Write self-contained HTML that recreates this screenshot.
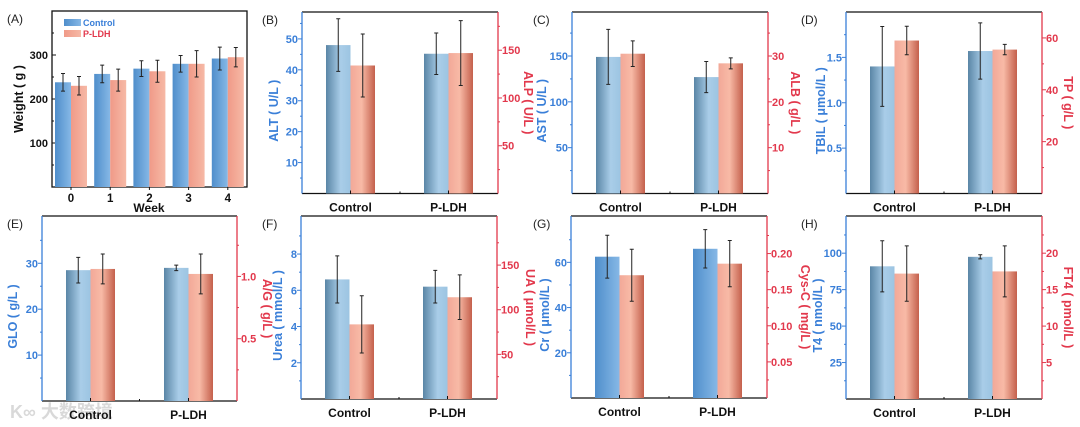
<!DOCTYPE html>
<html><head><meta charset="utf-8">
<style>
html,body{margin:0;padding:0;background:#fff;}
svg{display:block;font-family:"Liberation Sans","Noto Sans CJK SC",sans-serif;}
</style></head>
<body>
<svg id="fig" width="1080" height="427" viewBox="0 0 1080 427" xmlns="http://www.w3.org/2000/svg">
<defs>
<linearGradient id="gb" x1="0" x2="1"><stop offset="0" stop-color="#5a86a6"/><stop offset="0.6" stop-color="#a9cde8"/><stop offset="1" stop-color="#9cc4e2"/></linearGradient>
<linearGradient id="gr" x1="0" x2="1"><stop offset="0" stop-color="#f2a898"/><stop offset="0.45" stop-color="#f8baa6"/><stop offset="1" stop-color="#c4604c"/></linearGradient>
<linearGradient id="ga" x1="0" x2="1"><stop offset="0" stop-color="#4f8ecb"/><stop offset="1" stop-color="#86b8e6"/></linearGradient>
<linearGradient id="gar" x1="0" x2="1"><stop offset="0" stop-color="#f09a88"/><stop offset="1" stop-color="#f6b9a6"/></linearGradient>
</defs>
<g opacity="0.55">
<text x="10" y="418" font-size="18" fill="#bbb" font-weight="bold">K∞ 大数跨境</text>
</g>
</svg>
<script>
// ---- Panel A data ----
const weekCats = ["0","1","2","3","4"];
const weightControl = [238,257,269,280,292];
const weightControlErr = [20,20,18,19,26];
const weightPLDH = [230,243,263,280,295];
const weightPLDHErr = [21,25,25,30,22];
const weightTicks = [100,200,300];

// ---- Panels B-H data ----
const groups = ["Control","P-LDH"];
const altVals = [48,45.2]; const altErr = [8.5,6.7];
const alpVals = [134,147]; const alpErr = [33,34];
const astVals = [149,127]; const astErr = [30,17];
const albVals = [30.5,28.4]; const albErr = [2.8,1.2];
const tbilVals = [1.40,1.57]; const tbilErr = [0.44,0.31];
const tpVals = [59,55.5]; const tpErr = [5.5,2];
const gloVals = [28.5,29]; const gloErr = [2.8,0.6];
const agVals = [1.06,1.02]; const agErr = [0.12,0.16];
const ureaVals = [6.6,6.2]; const ureaErr = [1.3,0.9];
const uaVals = [83.6,114]; const uaErr = [32,25];
const crVals = [62.5,66]; const crErr = [9.5,8.5];
const cysVals = [0.17,0.186]; const cysErr = [0.036,0.032];
const t4Vals = [91,97.5]; const t4Err = [17.5,1.4];
const ft4Vals = [17.2,17.5]; const ft4Err = [3.8,3.5];

const NS = "http://www.w3.org/2000/svg";
const svg = document.getElementById("fig");
function mk(tag, attrs, parent){
  const e = document.createElementNS(NS, tag);
  for (const k in attrs) e.setAttribute(k, attrs[k]);
  (parent||svg).appendChild(e);
  return e;
}
const BLUE="#3a7fd8", RED="#e2384c";

function fmt(v, step){
  const d = step < 0.1 ? 2 : (step < 1 ? 1 : 0);
  return v.toFixed(d);
}

function yAxis(g, x, scale, max, step, color, side, yb){
  const ln = mk("line",{x1:x,x2:x,y1:yb,y2:scale(max),stroke:color,"stroke-width":1.3},g);
  
  
  const dir = side==='l' ? -1 : 1;
  for (let v = step/2; v < max - step*0.2; v += step/2){
    const major = Math.abs(v/step - Math.round(v/step)) < 1e-6;
    const y = scale(v);
    mk("line",{x1:x,x2:x+dir*(major?4:2),y1:y,y2:y,stroke:color,"stroke-width":1},g);
    if (major && v <= max - step*0.4){
      const t = mk("text",{x:x+dir*4,y:y+4,"font-size":11,"font-weight":"bold",fill:color,"text-anchor":side==='l'?"end":"start"},g);
      t.textContent = fmt(v, step);
      
      
    }
  }
}

function pairPanel(o){
  const g = mk("g",{});
  
  
  const {x0,x1,yt,yb} = o;
  const sL = v => yb - v/o.lmax*(yb-yt);
  const sR = v => yb - v/o.rmax*(yb-yt);
  mk("line",{x1:x0,x2:x1,y1:yt,y2:yt,stroke:"#111","stroke-width":1.3},g);
  mk("line",{x1:x0,x2:x1,y1:yb,y2:yb,stroke:"#111","stroke-width":1.3},g);
  yAxis(g,x0,sL,o.lmax,o.lstep,BLUE,'l',yb);
  yAxis(g,x1,sR,o.rmax,o.rstep,RED,'r',yb);
  const cx = [x0+48.5, x0+146.5], bw = 24.5;
  mk("line",{x1:(x0+x1)/2,x2:(x0+x1)/2,y1:yb,y2:yb-2,stroke:"#111"},g);
  groups.forEach((name,i)=>{
    const c = cx[i];
    const b = mk("rect",{x:c-bw,y:sL(o.lv[i]),width:bw,height:yb-sL(o.lv[i]),fill:o.bfill||"url(#gb)"},g);
    
    
    const r = mk("rect",{x:c,y:sR(o.rv[i]),width:bw,height:yb-sR(o.rv[i]),fill:"url(#gr)"},g);
    
    
    mk("line",{x1:c,x2:c,y1:yb,y2:yb-3,stroke:"#111"},g);
    [[c-bw/2,sL(o.lv[i]+o.le[i]),sL(o.lv[i]-o.le[i])],[c+bw/2,sR(o.rv[i]+o.re[i]),sR(o.rv[i]-o.re[i])]].forEach(e=>{
      const eb = mk("path",{d:`M${e[0]},${e[1]}V${e[2]}M${e[0]-2},${e[1]}H${e[0]+2}M${e[0]-2},${e[2]}H${e[0]+2}`,stroke:"#222","stroke-width":1,fill:"none"},g);
      
      
    });
    const t = mk("text",{x:c,y:yb+18,"font-size":12,"font-weight":"bold","text-anchor":"middle",fill:"#111"},g);
    t.textContent = name;
    
    
  });
  const ym = (yt+yb)/2;
  const lt = mk("text",{x:0,y:0,"font-size":12.5,"font-weight":"bold",fill:BLUE,"text-anchor":"middle",transform:`translate(${x0-o.lOff},${ym+8}) rotate(-90)`},g);
  lt.textContent = o.ltitle;
  
  
  const rt = mk("text",{x:0,y:0,"font-size":12.5,"font-weight":"bold",fill:RED,"text-anchor":"middle",transform:`translate(${x1+o.rOff},${ym}) rotate(90)`},g);
  rt.textContent = o.rtitle;
  
  
  const pl = mk("text",{x:o.lx,y:yt+12,"font-size":12,fill:"#222"},g);
  pl.textContent = o.letter;
  
  
}

// Panel A
(function(){
  const g = mk("g",{});
  
  
  const x0=52,x1=247,yt=11,yb=187,max=400;
  const s = v => yb - v/max*(yb-yt);
  mk("rect",{x:x0,y:yt,width:x1-x0,height:yb-yt,fill:"none",stroke:"#111","stroke-width":1.3},g);
  for (let v=50; v<max; v+=50){
    const major = v%100===0;
    mk("line",{x1:x0,x2:x0+(major?4:2),y1:s(v),y2:s(v),stroke:"#111"},g);
    if (major && weightTicks.includes(v)){
      const t = mk("text",{x:x0-4,y:s(v)+4,"font-size":11,"font-weight":"bold","text-anchor":"end",fill:"#111"},g);
      t.textContent = v;
      
      
    }
  }
  const step = 39.2, c0 = 71, bw = 16;
  weekCats.forEach((w,i)=>{
    const c = c0 + i*step;
    mk("line",{x1:c,x2:c,y1:yb,y2:yb+3,stroke:"#111"},g);
    const b = mk("rect",{x:c-bw,y:s(weightControl[i]),width:bw,height:yb-s(weightControl[i]),fill:"url(#ga)"},g);
    
    
    const r = mk("rect",{x:c,y:s(weightPLDH[i]),width:bw,height:yb-s(weightPLDH[i]),fill:"url(#gar)"},g);
    
    
    [[c-bw/2,weightControl[i],weightControlErr[i]],[c+bw/2,weightPLDH[i],weightPLDHErr[i]]].forEach(e=>{
      const a=s(e[1]+e[2]), bb=s(e[1]-e[2]);
      const eb = mk("path",{d:`M${e[0]},${a}V${bb}M${e[0]-2},${a}H${e[0]+2}M${e[0]-2},${bb}H${e[0]+2}`,stroke:"#222",fill:"none"},g);
      
      
    });
    const t = mk("text",{x:c,y:yb+15,"font-size":11.5,"font-weight":"bold","text-anchor":"middle",fill:"#111"},g);
    t.textContent = w;
    
    
  });
  const xt = mk("text",{x:149,y:212,"font-size":12,"font-weight":"bold","text-anchor":"middle",fill:"#111"},g);
  xt.textContent = "Week";
  
  
  const yt2 = mk("text",{x:0,y:0,"font-size":12.5,"font-weight":"bold","text-anchor":"middle",fill:"#111",transform:"translate(23,99) rotate(-90)"},g);
  yt2.textContent = "Weight ( g )";
  
  
  const pl = mk("text",{x:7,y:23,"font-size":12,fill:"#222"},g);
  pl.textContent = "(A)";
  
  
  [["url(#ga)","Control",BLUE,19],["url(#gar)","P-LDH",RED,30]].forEach(l=>{
    const sw = mk("rect",{x:64,y:l[3],width:17,height:7,fill:l[0]},g);
    
    
    const t = mk("text",{x:83,y:l[3]+7,"font-size":9,"font-weight":"bold",fill:l[2]},g);
    t.textContent = l[1];
    
    
  });
})();

pairPanel({name:'panel-b-alt-alp',letter:'(B)',lx:262,x0:302,x1:498,yt:12,yb:193.5,lmax:58.7,lstep:10,rmax:190,rstep:50,lv:altVals,le:altErr,rv:alpVals,re:alpErr,lkey:'alt',rkey:'alp',ltitle:'ALT ( U/L )',rtitle:'ALP ( U/L )',lOff:24,rOff:26});
pairPanel({name:'panel-c-ast-alb',letter:'(C)',lx:533,x0:572,x1:768,yt:12,yb:193.5,lmax:198,lstep:50,rmax:39.6,rstep:10,lv:astVals,le:astErr,rv:albVals,re:albErr,lkey:'ast',rkey:'alb',ltitle:'AST ( U/L )',rtitle:'ALB ( g/L )',lOff:26,rOff:23});
pairPanel({name:'panel-d-tbil-tp',letter:'(D)',lx:801,x0:846,x1:1042,yt:12,yb:193.5,lmax:2.0,lstep:0.5,rmax:70,rstep:20,lv:tbilVals,le:tbilErr,rv:tpVals,re:tpErr,lkey:'tbil',rkey:'tp',ltitle:'TBIL ( μmol/L )',rtitle:'TP ( g/L )',lOff:21,rOff:22});
pairPanel({name:'panel-e-glo-ag',letter:'(E)',lx:7,x0:42,x1:237,yt:216,yb:401,lmax:40.3,lstep:10,rmax:1.485,rstep:0.5,lv:gloVals,le:gloErr,rv:agVals,re:agErr,lkey:'glo',rkey:'ag',ltitle:'GLO ( g/L )',rtitle:'A/G ( g/L )',lOff:25,rOff:26});
pairPanel({name:'panel-f-urea-ua',letter:'(F)',lx:262,x0:301,x1:497,yt:216,yb:399,lmax:10.1,lstep:2,rmax:205,rstep:50,lv:ureaVals,le:ureaErr,rv:uaVals,re:uaErr,lkey:'urea',rkey:'ua',ltitle:'Urea ( mmol/L )',rtitle:'UA ( μmol/L )',lOff:19,rOff:29});
pairPanel({name:'panel-g-cr-cysc',letter:'(G)',lx:533,x0:571,x1:767,yt:216,yb:398,lmax:80.5,lstep:20,rmax:0.252,rstep:0.05,lv:crVals,le:crErr,rv:cysVals,re:cysErr,lkey:'cr',rkey:'cysc',ltitle:'Cr ( μmol/L )',rtitle:'Cys-C ( mg/L )',lOff:22,rOff:34,bfill:"url(#ga)"});
pairPanel({name:'panel-h-t4-ft4',letter:'(H)',lx:801,x0:846,x1:1042,yt:216,yb:399,lmax:125.5,lstep:25,rmax:25.1,rstep:5,lv:t4Vals,le:t4Err,rv:ft4Vals,re:ft4Err,lkey:'t4',rkey:'ft4',ltitle:'T4 ( nmol/L )',rtitle:'FT4 ( pmol/L )',lOff:24,rOff:22});
</script>
</body></html>
